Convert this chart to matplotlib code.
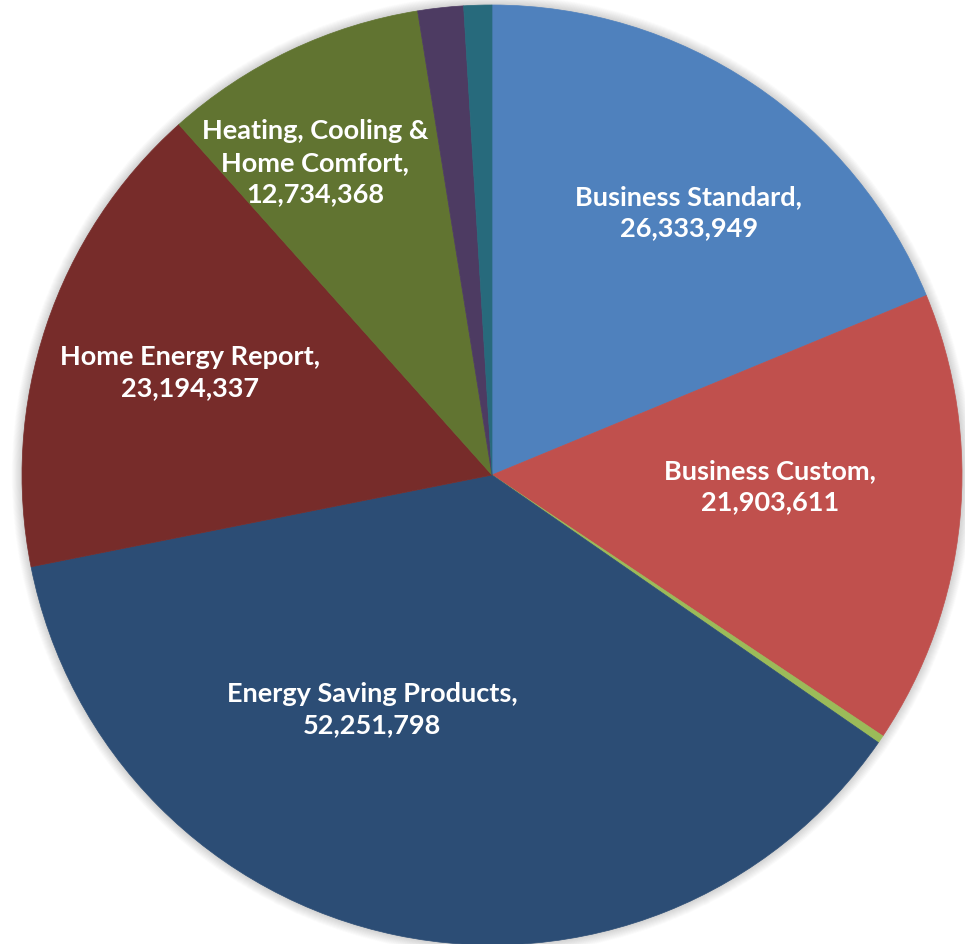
import numpy as np
import matplotlib.pyplot as plt

# program savings (kWh), clockwise from 12 o'clock
programs = ["Business Standard", "Business Custom", None,
            "Energy Saving Products", "Home Energy Report",
            "Heating, Cooling &\nHome Comfort", None, None]
savings = [26333949, 21903611, 380000, 52251798, 23194337,
           12734368, 2200000, 1350000]
colors = ["#4F81BD", "#C0504D", "#9BBB59", "#2C4D75", "#772C2A",
          "#617431", "#4D3B62", "#276A7C"]

# where each label sits, in pie-radius units from the centre
label_pos = [(0.419, 0.560), (0.591, -0.023), None, (-0.255, -0.497),
             (-0.643, 0.220), (-0.377, 0.666), None, None]

fig = plt.figure(figsize=(9.65, 9.45), dpi=100)
ax = fig.add_axes([0, 0, 1, 1])

# soft shadow around the pie
for r in np.linspace(1.0, 1.022, 24):
    ax.add_patch(plt.Circle((0, 0), r, color="black", alpha=0.009,
                            lw=0, zorder=0))

wedges, _ = ax.pie(savings, colors=colors, startangle=90, counterclock=False,
                   radius=1.0, center=(0, 0), frame=True,
                   wedgeprops=dict(linewidth=0.5, antialiased=True))
for w, c in zip(wedges, colors):
    w.set_edgecolor(c)
    w.set_zorder(2)

ax.set_xlim(-492 / 470, 473 / 470)
ax.set_ylim(-469 / 470, 476 / 470)
ax.set_aspect("equal")
ax.axis("off")

for name, val, pos in zip(programs, savings, label_pos):
    if name is None:
        continue
    ax.text(pos[0], pos[1], f"{name},\n{val:,}", ha="center", va="center",
            color="white", fontsize=19.5, fontweight="bold", family="Lato",
            linespacing=1.38, zorder=3)

fig.savefig("out.png", dpi=100, facecolor="white")
